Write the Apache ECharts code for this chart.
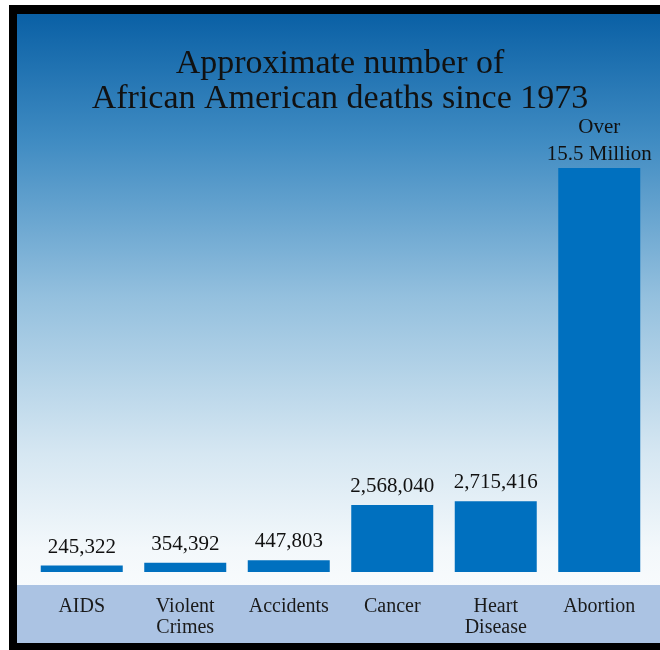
<!DOCTYPE html>
<html>
<head>
<meta charset="utf-8">
<script src="https://cdn.jsdelivr.net/npm/echarts@6/dist/echarts.min.js"></script>
<style>html,body{margin:0;padding:0;background:#fff}#c{width:660px;height:650px}</style>
</head>
<body>
<div id="c"></div>
<script>
const categories = ['AIDS', 'Violent\nCrimes', 'Accidents', 'Cancer', 'Heart\nDisease', 'Abortion'];
const values = [245322, 354392, 447803, 2568040, 2715416, 15500000];
const valueLabels = ['245,322', '354,392', '447,803', '2,568,040', '2,715,416', 'Over\n15.5 Million'];
const titleLines = ['Approximate number of', 'African American deaths since 1973'];

const serif = '"Liberation Serif", "Times New Roman", serif';
const seriesData = values.map((v, i) => i === values.length - 1
  ? { value: v, label: { distance: 0 } }
  : v);
const chart = echarts.init(document.getElementById('c'));
chart.setOption({
  animation: false,
  backgroundColor: '#ffffff',
  graphic: [
    { type: 'rect', z: -10, shape: { x: 9, y: 5, width: 700, height: 700 }, style: { fill: '#000' } },
    { type: 'rect', z: -9, shape: { x: 17, y: 14, width: 700, height: 629 },
      style: { fill: new echarts.graphic.LinearGradient(0, 0, 0, 1, [
        { offset: 0, color: '#0a60a5' },
        { offset: 0.2, color: '#3f8bc2' },
        { offset: 0.45, color: '#94c0de' },
        { offset: 0.7, color: '#d6e7f2' },
        { offset: 0.85, color: '#f3f8fb' },
        { offset: 1, color: '#ffffff' }
      ]) } },
    { type: 'rect', z: -8, shape: { x: 17, y: 585, width: 700, height: 58 }, style: { fill: '#abc3e3' } },
    { type: 'text', z: 10, x: 340, y: 47, style: {
        text: titleLines.join('\n'), font: '34px ' + serif, fill: '#111', align: 'center', verticalAlign: 'top', lineHeight: 35
      } }
  ],
  grid: { left: 30, right: 9, top: 168, bottom: 78, containLabel: false },
  xAxis: {
    type: 'category', data: categories,
    axisLine: { show: false }, axisTick: { show: false },
    axisLabel: { margin: 24, fontFamily: serif, fontSize: 20, color: '#1a1a1a', lineHeight: 21, verticalAlign: 'top', interval: 0 }
  },
  yAxis: { type: 'value', min: 0, max: 15500000, show: false, splitLine: { show: false } },
  series: [{
    type: 'bar', data: seriesData, barWidth: 82,
    itemStyle: { color: '#0070bf' },
    label: {
      show: true, position: 'top', distance: 5,
      fontFamily: serif, fontSize: 21, color: '#111', lineHeight: 27,
      formatter: p => valueLabels[p.dataIndex]
    }
  }]
});
</script>
</body>
</html>
